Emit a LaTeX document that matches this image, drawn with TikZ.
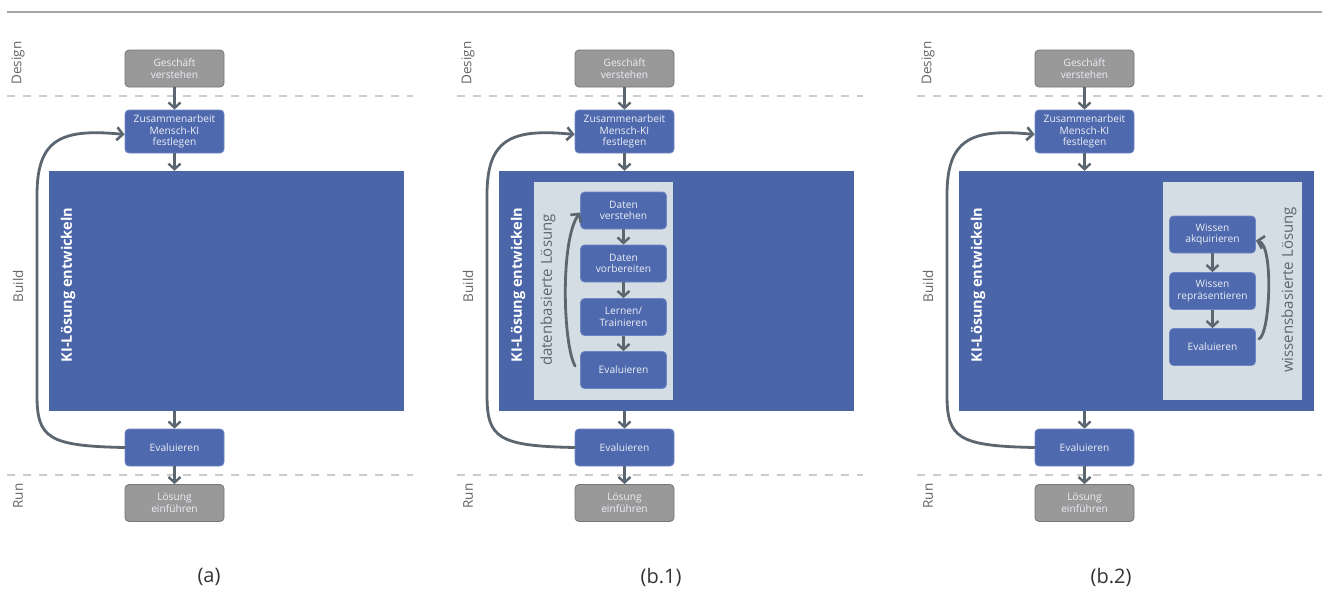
\documentclass[tikz,border=0pt]{standalone}
\usepackage{fontspec}
\setmainfont{Open Sans}
\usetikzlibrary{arrows.meta,calc}
\definecolor{kiblue}{HTML}{4B65A9}
\definecolor{boxblue}{HTML}{4F69AE}
\definecolor{boxedge}{HTML}{6E86C2}
\definecolor{greybox}{HTML}{999999}
\definecolor{greyedge}{HTML}{757575}
\definecolor{arrowgrey}{HTML}{5B6670}
\definecolor{panelgrey}{HTML}{D4DDE3}
\definecolor{labelgrey}{HTML}{666666}
\definecolor{boxtext}{HTML}{ECEFF6}
\tikzset{
  stepbox/.style={draw=boxedge, line width=0.8pt, fill=boxblue, rounded corners=4pt,
    minimum width=99pt, minimum height=37pt, align=center, text=boxtext,
    font=\fontsize{10.2}{11.5}\selectfont, inner sep=1pt},
  greystep/.style={stepbox, fill=greybox, draw=greyedge},
  innerstep/.style={stepbox, minimum width=86pt},
  flow/.style={draw=arrowgrey, line width=2.6pt, -{Straight Barb[length=5.5pt,width=12pt,line width=2.4pt]}},
  loop/.style={draw=arrowgrey, line width=2.8pt, line cap=round, -{Straight Barb[length=6pt,width=13pt,line width=2.6pt]}},
  phase/.style={rotate=90, text=labelgrey, font=\fontsize{13.5}{15}\selectfont},
  sep/.style={draw=black!20, line width=1.8pt, dash pattern=on 8pt off 8pt},
  bigbox/.style={fill=kiblue, draw=none, minimum width=355pt, minimum height=240pt, inner sep=0pt},
  bigtitle/.style={rotate=90, text=white, font=\bfseries\fontsize{14.5}{16}\selectfont},
  panel/.style={fill=panelgrey, draw=none, minimum width=139pt, minimum height=218pt, inner sep=0pt},
  paneltitle/.style={rotate=90, text=arrowgrey, font=\fontsize{15}{17}\selectfont},
  caption/.style={text=black!80, font=\fontsize{20}{22}\selectfont}
}
\begin{document}
\begin{tikzpicture}[x=1pt,y=-1pt]
\useasboundingbox (0,0) rectangle (1322,589);
\fill[white] (0,0) rectangle (1322,589);
\draw[draw=black!35, line width=1.3pt] (7,12) -- (1322,12);

% one column of the process per offset
\foreach \ox/\tag/\sx/\ex in {0/a/7/413, 450/b/457/863, 910/c/917/1322}{
  \draw[sep] (\sx,96) -- (\ex,96);
  \draw[sep] (\sx,475) -- (\ex,475);
  \node[phase] (design\tag) at (18+\ox,63) {Design};
  \node[phase] (build\tag) at (18+\ox,286) {Build};
  \node[phase] (run\tag) at (18+\ox,496) {Run};
  \node[greystep] (gesch\tag) at (174.5+\ox,68.5) {Geschäft\\verstehen};
  \node[stepbox, minimum height=43pt] (zus\tag) at (174.5+\ox,131.5) {Zusammenarbeit\\Mensch-KI\\festlegen};
  \node[bigbox] (ki\tag) at (226.5+\ox,291) {};
  \node[bigtitle] (kit\tag) at (68+\ox,285) {KI-Lösung entwickeln};
  \node[stepbox] (ev\tag) at (174.5+\ox,447.5) {Evaluieren};
  \node[greystep] (los\tag) at (174.5+\ox,503) {Lösung\\einführen};
  \draw[flow] (gesch\tag.south) -- (zus\tag.north);
  \draw[flow] (zus\tag.south) -- (zus\tag.south |- ki\tag.north);
  \draw[flow] (ev\tag.north |- ki\tag.south) -- (ev\tag.north);
  \draw[flow] (ev\tag.south) -- (los\tag.north);
  \draw[loop] (ev\tag.west) .. controls (48+\ox,446) and (37+\ox,438) .. (37+\ox,395)
    -- (37+\ox,195) .. controls (37+\ox,140) and (60+\ox,128) .. ([yshift=-3pt]zus\tag.west);
}

% data-driven sub-process
\node[panel] (pdata) at (603.5,291) {};
\node[paneltitle] (tdata) at (548,290) {datenbasierte Lösung};
\node[innerstep] (d1) at (623.5,210.5) {Daten\\verstehen};
\node[innerstep] (d2) at (623.5,263.5) {Daten\\vorbereiten};
\node[innerstep] (d3) at (623.5,317) {Lernen/\\Trainieren};
\node[innerstep] (d4) at (623.5,370) {Evaluieren};
\draw[flow] (d1) -- (d2);
\draw[flow] (d2) -- (d3);
\draw[flow] (d3) -- (d4);
\draw[loop] ([xshift=-5pt,yshift=4pt]d4.west) .. controls (563,345) and (560,240) .. ([yshift=-2pt]d1.west);

% knowledge-based sub-process
\node[panel] (pknow) at (1232.5,291) {};
\node[paneltitle] (tknow) at (1289,290) {wissensbasierte Lösung};
\node[innerstep] (k1) at (1212.5,234.5) {Wissen\\akquirieren};
\node[innerstep] (k2) at (1212.5,291) {Wissen\\repräsentieren};
\node[innerstep] (k3) at (1212.5,347) {Evaluieren};
\draw[flow] (k1) -- (k2);
\draw[flow] (k2) -- (k3);
\draw[loop] ([xshift=3pt,yshift=8pt]k3.east) .. controls (1270,335) and (1274,245) .. ([yshift=-6pt]k1.east);

\node[caption] (capa) at (209,577) {(a)};
\node[caption] (capb) at (661,577) {(b.1)};
\node[caption] (capc) at (1111,577) {(b.2)};
\end{tikzpicture}
\end{document}
